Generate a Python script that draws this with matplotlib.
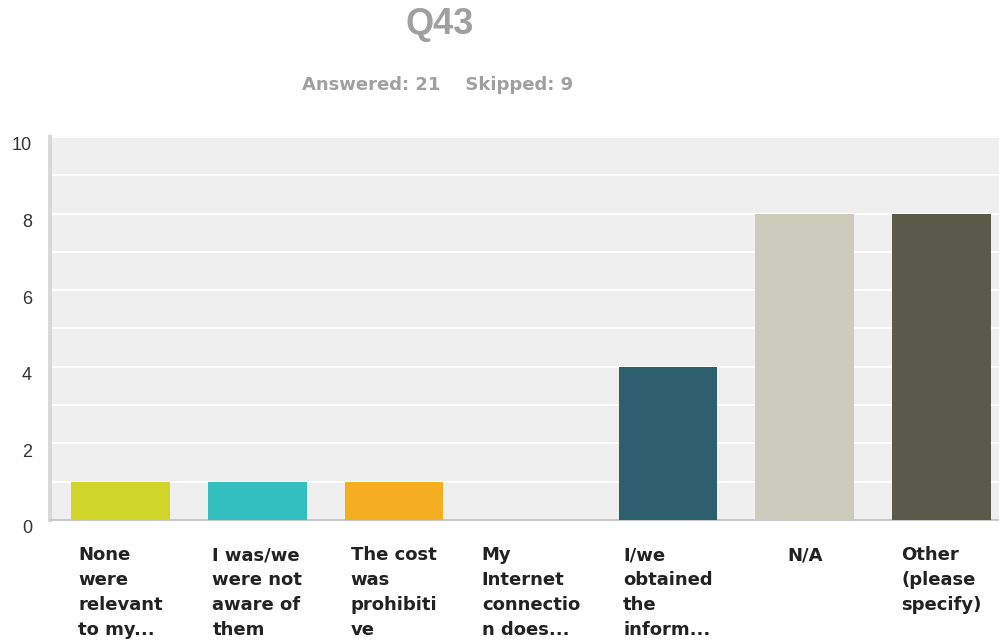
import numpy as np
import matplotlib.pyplot as plt
import matplotlib.transforms as mtransforms

plt.rcParams['font.family'] = ['Liberation Sans', 'DejaVu Sans']

labels = ['None\nwere\nrelevant\nto my...', 'I was/we\nwere not\naware of\nthem',
          'The cost\nwas\nprohibiti\nve', 'My\nInternet\nconnectio\nn does...',
          'I/we\nobtained\nthe\ninform...', 'N/A', 'Other\n(please\nspecify)']
counts = [1, 1, 1, 0, 4, 8, 8]
colors = ['#d0d52a', '#33bec0', '#f5ae1f', '#8a8a8a', '#2d5f6e', '#cdcbbb', '#5b5949']
yticks = [0, 2, 4, 6, 8, 10]

fig = plt.figure(figsize=(9.99, 6.41), dpi=100)
ax = fig.add_axes([0.05, 0.1888, 0.95, 0.5975])
ax.set_facecolor('#efefef')

x = np.arange(len(counts))
ax.bar(x, counts, width=0.72, color=colors, zorder=3)

ax.set_xlim(-0.515, 6.42)
ax.set_ylim(0, 10)
# white gridlines every 1 unit
for v in np.arange(1, 11):
    ax.axhline(v, color='white', lw=1.5, zorder=1)
ax.set_yticks(yticks)
ax.set_yticklabels([str(t) for t in yticks], fontsize=13, color='#333333')
ax.tick_params(axis='y', length=0, pad=13)
offset = mtransforms.ScaledTranslation(0, -7 / 100, fig.dpi_scale_trans)
for lab in ax.get_yticklabels():
    lab.set_transform(lab.get_transform() + offset)

ax.set_xticks(x)
ax.set_xticklabels(labels, fontsize=13, fontweight='bold', color='#222222',
                   family='DejaVu Sans', va='top', ha='center',
                   multialignment='left', linespacing=1.5)
ax.tick_params(axis='x', length=0, pad=19)

for s in ['top', 'right']:
    ax.spines[s].set_visible(False)
ax.spines['left'].set_color('#d8d8d8')
ax.spines['left'].set_linewidth(3)
ax.spines['bottom'].set_color('#c8c8c8')
ax.spines['bottom'].set_linewidth(1.5)

fig.text(440 / 999, 1 - 25 / 641, 'Q43', ha='center', va='center',
         fontsize=26, fontweight='bold', color='#a0a0a0')
fig.text(438 / 999, 1 - 85 / 641, 'Answered: 21    Skipped: 9', ha='center', va='center',
         fontsize=13, fontweight='bold', color='#a0a0a0', family='DejaVu Sans')

fig.savefig('out.png', dpi=100)
